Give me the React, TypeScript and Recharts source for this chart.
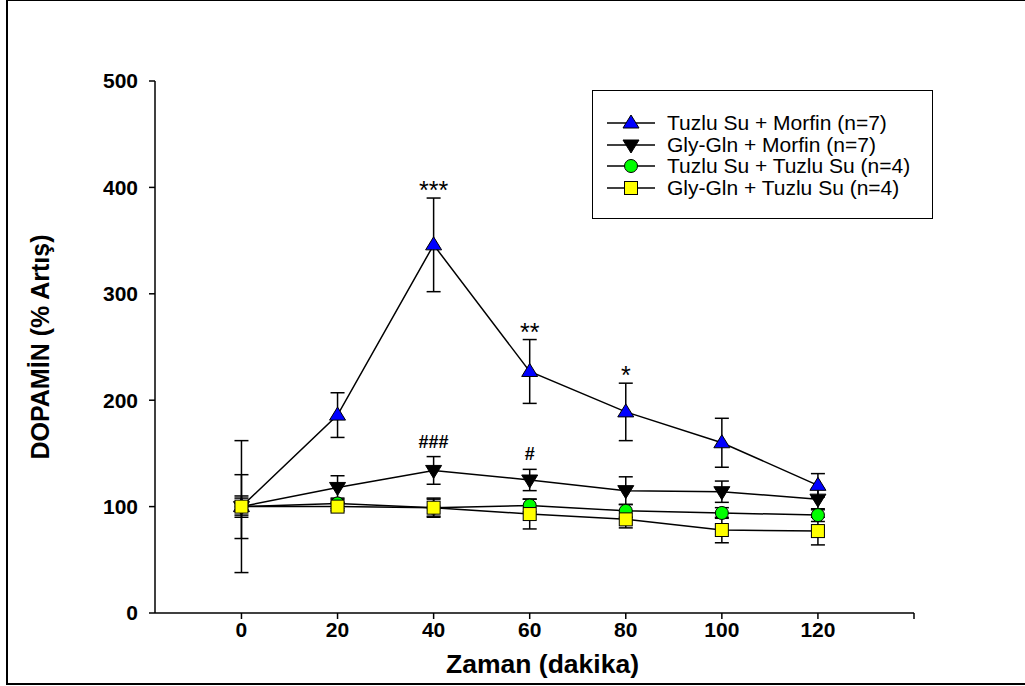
import React from 'react';
import {
  ComposedChart,
  Line,
  XAxis,
  YAxis,
  ErrorBar,
  ReferenceDot,
} from 'recharts';

// sampling times (dakika)
const times = [0, 20, 40, 60, 80, 100, 120];

// Tuzlu Su + Morfin (n=7)
const salineMorphine = [100, 186, 346, 227, 189, 160, 120];
const salineMorphineErr = [62, 21, 44, 30, 27, 23, 11];

// Gly-Gln + Morfin (n=7)
const glyMorphine = [100, 118, 134, 125, 115, 114, 107];
const glyMorphineErr = [30, 11, 13, 10, 13, 10, 10];

// Tuzlu Su + Tuzlu Su (n=4)
const salineSaline = [100, 103, 99, 101, 96, 94, 92];
const salineSalineErr = [10, 5, 8, 6, 6, 5, 6];

// Gly-Gln + Tuzlu Su (n=4)
const glySaline = [100, 100, 99, 93, 88, 78, 77];
const glySalineErr = [8, 4, 9, 14, 8, 12, 13];

// significance marks
const starMarks = ['', '', '***', '**', '*', '', ''];
const hashMarks = ['', '', '###', '#', '', '', ''];

const xTicks = [0, 20, 40, 60, 80, 100, 120, 140];
const yTicks = [0, 100, 200, 300, 400, 500];

const FONT = '"Liberation Sans", Arial, Helvetica, sans-serif';

const data = times.map((t, i) => ({
  t,
  sm: salineMorphine[i],
  smErr: salineMorphineErr[i],
  gm: glyMorphine[i],
  gmErr: glyMorphineErr[i],
  ss: salineSaline[i],
  ssErr: salineSalineErr[i],
  gs: glySaline[i],
  gsErr: glySalineErr[i],
}));

type DotProps = { cx?: number; cy?: number; index?: number };

const TriUp = ({ cx = 0, cy = 0, index }: DotProps) => (
  <polygon
    key={`tu-${index}`}
    points={`${cx},${cy - 8} ${cx - 8},${cy + 5} ${cx + 8},${cy + 5}`}
    fill="#0000ff"
    stroke="#000"
    strokeWidth={1}
  />
);

const TriDown = ({ cx = 0, cy = 0, index }: DotProps) => (
  <polygon
    key={`td-${index}`}
    points={`${cx},${cy + 8} ${cx - 8},${cy - 5} ${cx + 8},${cy - 5}`}
    fill="#000"
    stroke="#000"
    strokeWidth={1}
  />
);

const Circ = ({ cx = 0, cy = 0, index }: DotProps) => (
  <circle key={`c-${index}`} cx={cx} cy={cy} r={6.5} fill="#00ff00" stroke="#000" strokeWidth={1} />
);

const Sq = ({ cx = 0, cy = 0, index }: DotProps) => (
  <rect
    key={`s-${index}`}
    x={cx - 6.5}
    y={cy - 6.5}
    width={13}
    height={13}
    fill="#ffff00"
    stroke="#000"
    strokeWidth={1}
  />
);

const series = [
  { key: 'sm', err: 'smErr', name: 'Tuzlu Su + Morfin (n=7)', Dot: TriUp },
  { key: 'gm', err: 'gmErr', name: 'Gly-Gln + Morfin (n=7)', Dot: TriDown },
  { key: 'ss', err: 'ssErr', name: 'Tuzlu Su + Tuzlu Su (n=4)', Dot: Circ },
  { key: 'gs', err: 'gsErr', name: 'Gly-Gln + Tuzlu Su (n=4)', Dot: Sq },
];

const YTitle = (props: any) => {
  const vb = props.viewBox;
  const cy = vb.y + vb.height / 2;
  return (
    <text
      x={40}
      y={cy}
      transform={`rotate(-90, 40, ${cy})`}
      textAnchor="middle"
      dominantBaseline="central"
      fontFamily={FONT}
      fontWeight="bold"
      fontSize={25}
      fill="#000"
    >
      DOPAMİN (% Artış)
    </text>
  );
};

const XTitle = (props: any) => {
  const vb = props.viewBox;
  return (
    <text
      x={vb.x + vb.width / 2 + 8}
      y={vb.y + 60}
      textAnchor="middle"
      fontFamily={FONT}
      fontWeight="bold"
      fontSize={26.5}
      fill="#000"
    >
      Zaman (dakika)
    </text>
  );
};

function LegendBox() {
  return (
    <div
      style={{
        position: 'absolute',
        left: 592,
        top: 90,
        width: 341,
        height: 129,
        border: '1.5px solid #000',
        boxSizing: 'border-box',
        background: '#fff',
        fontFamily: FONT,
        fontSize: 21,
        paddingTop: 21,
      }}
    >
      {series.map((s) => (
        <div key={s.key} style={{ display: 'flex', alignItems: 'center', height: 21.7 }}>
          <svg width={74} height={22} style={{ flex: 'none' }}>
            <line x1={14} y1={11} x2={62} y2={11} stroke="#000" strokeWidth={1.5} />
            <s.Dot cx={38} cy={11} index={0} />
          </svg>
          <span style={{ whiteSpace: 'nowrap', lineHeight: '22px' }}>{s.name}</span>
        </div>
      ))}
    </div>
  );
}

export default function App() {
  return (
    <div style={{ position: 'absolute', left: 0, top: 0, width: 1025, height: 686, background: '#fff' }}>
      <div
        style={{
          position: 'absolute',
          left: 6,
          top: 0,
          width: 1019,
          height: 685,
          borderLeft: '2px solid #000',
          borderTop: '1px solid #000',
          borderBottom: '2px solid #000',
          boxSizing: 'border-box',
        }}
      />
      <ComposedChart
        width={1025}
        height={686}
        data={data}
        margin={{ top: 81, right: 111, left: 95, bottom: 33 }}
        style={{ position: 'absolute', left: 0, top: 0 }}
      >
        <XAxis
          dataKey="t"
          type="number"
          domain={[-18, 140]}
          ticks={xTicks}
          tickFormatter={(v: number) => (v === 140 ? '' : String(v))}
          allowDataOverflow
          height={40}
          axisLine={{ stroke: '#000', strokeWidth: 1.5 }}
          tickLine={{ stroke: '#000', strokeWidth: 1.5 }}
          tickSize={6}
          tickMargin={3}
          tick={{ fill: '#000', fontFamily: FONT, fontWeight: 'bold', fontSize: 21 }}
          label={{ content: XTitle }}
        />
        <YAxis
          type="number"
          domain={[0, 500]}
          ticks={yTicks}
          width={60}
          axisLine={{ stroke: '#000', strokeWidth: 1.5 }}
          tickLine={{ stroke: '#000', strokeWidth: 1.5 }}
          tickSize={6}
          tickMargin={11}
          tick={{ fill: '#000', fontFamily: FONT, fontWeight: 'bold', fontSize: 21 }}
          label={{ content: YTitle }}
        />
        {series.map((s) => (
          <Line
            key={s.key}
            dataKey={s.key}
            name={s.name}
            type="linear"
            stroke="#000"
            strokeWidth={1.5}
            dot={(p: any) => <s.Dot {...p} key={`${s.key}-${p.index}`} />}
            activeDot={false}
            isAnimationActive={false}
          >
            <ErrorBar dataKey={s.err} direction="y" width={7} stroke="#000" strokeWidth={1.5} />
          </Line>
        ))}
        {times.map((t, i) =>
          starMarks[i] ? (
            <ReferenceDot
              key={`star-${t}`}
              x={t}
              y={salineMorphine[i] + salineMorphineErr[i]}
              r={0}
              stroke="none"
              fill="none"
              label={{
                value: starMarks[i],
                position: 'top',
                offset: -1,
                fill: '#000',
                fontFamily: FONT,
                fontSize: 25,
              }}
            />
          ) : null,
        )}
        {times.map((t, i) =>
          hashMarks[i] ? (
            <ReferenceDot
              key={`hash-${t}`}
              x={t}
              y={glyMorphine[i] + glyMorphineErr[i]}
              r={0}
              stroke="none"
              fill="none"
              label={{
                value: hashMarks[i],
                position: 'top',
                offset: 9,
                fill: '#000',
                fontFamily: FONT,
                fontSize: 18,
                fontWeight: 'bold',
              }}
            />
          ) : null,
        )}
      </ComposedChart>
      <LegendBox />
    </div>
  );
}
